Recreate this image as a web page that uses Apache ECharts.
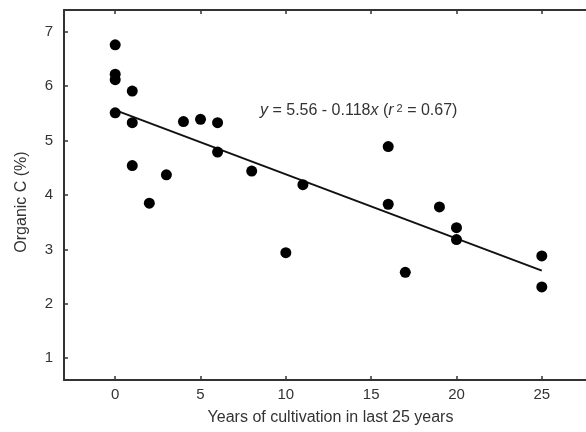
<!DOCTYPE html>
<html>
<head>
<meta charset="utf-8">
<script src="https://cdn.jsdelivr.net/npm/echarts@6/dist/echarts.min.js"></script>
<style>
  html, body { margin: 0; padding: 0; background: #fff; }
  #chart { width: 586px; height: 432px; }
</style>
</head>
<body>
<div id="chart"></div>
<script>
// years of cultivation vs organic C
var years = [0, 0, 0, 0, 1, 1, 1, 2, 3, 4, 5, 6, 6, 8, 10, 11, 16, 16, 17, 19, 20, 20, 25, 25];
var organicC = [6.76, 6.22, 6.12, 5.51, 5.91, 5.33, 4.54, 3.85, 4.37, 5.35, 5.39, 5.33, 4.79, 4.44, 2.94, 4.19, 4.89, 3.83, 2.58, 3.78, 3.40, 3.18, 2.88, 2.31];
// fitted line y = 5.56 - 0.118x
var fitX = [0, 25];
var fitY = [5.56, 2.61];
var xTicks = [0, 5, 10, 15, 20, 25];
var yTicks = [1, 2, 3, 4, 5, 6, 7];

var points = [];
for (var i = 0; i < years.length; i++) {
  points.push([years[i], organicC[i]]);
}
var fitLine = [];
for (var j = 0; j < fitX.length; j++) {
  fitLine.push([fitX[j], fitY[j]]);
}

var font = 'Liberation Sans, Arial, sans-serif';
var axisColor = '#333';
var textColor = '#333';

var myChart = echarts.init(document.getElementById('chart'));

var baseX = {
  type: 'value', min: -3, max: 28,
  axisLine: { show: true, onZero: false, lineStyle: { color: axisColor, width: 2 } },
  axisTick: { show: true, inside: true, length: 4, customValues: xTicks, lineStyle: { color: axisColor, width: 1.5 } },
  splitLine: { show: false }
};
var baseY = {
  type: 'value', min: 0.6, max: 7.4,
  axisLine: { show: true, onZero: false, lineStyle: { color: axisColor, width: 2 } },
  axisTick: { show: true, inside: true, length: 4, customValues: yTicks, lineStyle: { color: axisColor, width: 1.5 } },
  splitLine: { show: false }
};

var option = {
  backgroundColor: '#fff',
  animation: false,
  // frame runs past the right edge of the picture
  grid: { left: 64, top: 10, width: 529, height: 370, outerBoundsMode: 'none' },
  xAxis: [
    echarts.util.merge({
      position: 'bottom',
      name: 'Years of cultivation in last 25 years',
      nameLocation: 'middle',
      nameGap: 30,
      nameTextStyle: { color: textColor, fontSize: 16, fontFamily: font, padding: [0, 0, 0, 4] },
      axisLabel: { show: true, customValues: xTicks, margin: 7, color: textColor, fontSize: 15, fontFamily: font }
    }, echarts.util.clone(baseX), true),
    echarts.util.merge({ position: 'top', axisLabel: { show: false } }, echarts.util.clone(baseX), true)
  ],
  yAxis: [
    echarts.util.merge({
      position: 'left',
      name: 'Organic C (%)',
      nameLocation: 'middle',
      nameGap: 34,
      nameTextStyle: { color: textColor, fontSize: 16, fontFamily: font, padding: [0, 14, 0, 0] },
      axisLabel: { show: true, customValues: yTicks, margin: 11, color: textColor, fontSize: 15, fontFamily: font }
    }, echarts.util.clone(baseY), true),
    echarts.util.merge({ position: 'right', axisLabel: { show: false } }, echarts.util.clone(baseY), true)
  ],
  graphic: [{
    type: 'text',
    left: 260,
    top: 103,
    style: {
      text: '{i|y} = 5.56 - 0.118{i|x} ({i|r}{s| 2} = 0.67)',
      fill: textColor,
      font: '16px ' + font,
      rich: {
        i: { fontStyle: 'italic', fontSize: 16, fontFamily: font, fill: textColor },
        s: { fontSize: 11, fontFamily: font, fill: textColor, verticalAlign: 'top', lineHeight: 13 }
      }
    }
  }],
  series: [
    {
      type: 'line',
      data: fitLine,
      symbol: 'none',
      lineStyle: { color: '#111', width: 2 },
      z: 2
    },
    {
      type: 'scatter',
      data: points,
      symbolSize: 11,
      itemStyle: { color: '#000', opacity: 1 },
      z: 3
    }
  ]
};

myChart.setOption(option);
</script>
</body>
</html>
